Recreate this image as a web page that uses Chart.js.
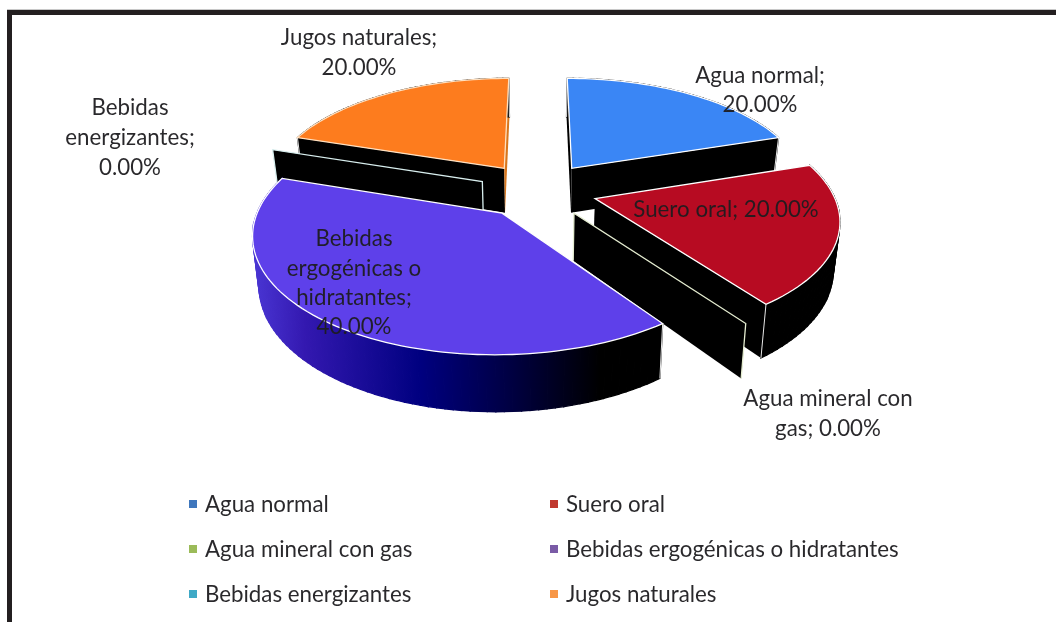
<!DOCTYPE html>
<html lang="es">
  <head>
    <meta charset="UTF-8" />
    <title>Bebidas</title>
    <style>
      body {
        margin: 0;
        background: #fff;
        overflow: hidden;
      }

      .frame {
        position: absolute;
        left: 7px;
        top: 10px;
        width: 1100px;
        height: 700px;
        border: 5px solid #231f20;
        box-shadow: 0 -1px 0 #c8c8c8;
      }

      canvas {
        position: absolute;
        left: 0;
        top: 0;
      }
    </style>
  </head>
  <body>
    <div class="frame"></div>
    <canvas id="chart" width="1056" height="622"></canvas>

    <script src="https://cdn.jsdelivr.net/npm/chart.js"></script>

    <script>
      const categories = [
        "Agua normal",
        "Suero oral",
        "Agua mineral con gas",
        "Bebidas ergogénicas o hidratantes",
        "Bebidas energizantes",
        "Jugos naturales",
      ];
      const shares = [20, 20, 0, 40, 0, 20];
      const labelLines = [
        ["Agua normal;", "20.00%"],
        ["Suero oral; 20.00%"],
        ["Agua mineral con", "gas; 0.00%"],
        ["Bebidas", "ergogénicas o", "hidratantes;", "40.00%"],
        ["Bebidas", "energizantes;", "0.00%"],
        ["Jugos naturales;", "20.00%"],
      ];

      const topColors = ["#3a86f5", "#b70b22", "#000000", "#5e40ea", "#000000", "#fd7c1e"];
      const legendColors = ["#3f77bd", "#c0392f", "#9bbb59", "#7a5ba6", "#3fa9c6", "#f79646"];
      const edgeColors = ["#ffffff", "#ffffff", "#e4ecd0", "#ffffff", "#d8eeee", "#ffe0c0"];

      // label anchors (centre x, y of each line)
      const labelX = [760, 726, 828, 354, 130, 359];
      const labelY = [
        [76, 105],
        [210],
        [399, 429],
        [239, 269, 298, 327],
        [108, 138, 168],
        [38, 68],
      ];
      const legendX = [189, 550, 189, 550, 189, 550];
      const legendY = [505, 505, 550, 550, 595, 595];
      const drawOrder = [5, 0, 4, 1, 2, 3];

      // fake 3D view of the pie
      const CX = 538;
      const CY = 190;
      const RX = 237;
      const RY = 110.7;
      const PERSP = 0.16;
      const EXPLODE = 0.25;
      const DEPTH = 46;
      const FONT = '22.3px Lato, "Noto Sans", sans-serif';

      function project(u, v, bottom) {
        const s = 1 / (1 - PERSP * v);
        let x = CX + RX * u * s;
        let y = CY + RY * v * s;
        if (bottom) {
          x = CX + (x - CX) * 0.978;
          y += DEPTH * s;
        }
        return [x, y];
      }

      function polygon(ctx, pts, fill, stroke) {
        ctx.beginPath();
        pts.forEach((p, i) => (i ? ctx.lineTo(p[0], p[1]) : ctx.moveTo(p[0], p[1])));
        ctx.closePath();
        ctx.fillStyle = fill;
        ctx.fill();
        if (stroke) {
          ctx.strokeStyle = stroke;
          ctx.lineWidth = 1.3;
          ctx.stroke();
        }
      }

      function drawSlice(ctx, arc, index) {
        const { startAngle, endAngle } = arc.getProps(["startAngle", "endAngle"], true);
        const mid = (startAngle + endAngle) / 2;
        const ou = EXPLODE * Math.cos(mid);
        const ov = EXPLODE * Math.sin(mid);
        const rim = [];
        const steps = Math.max(1, Math.ceil((endAngle - startAngle) / 0.03));
        for (let i = 0; i <= steps; i++) {
          const a = startAngle + ((endAngle - startAngle) * i) / steps;
          rim.push([ou + Math.cos(a), ov + Math.sin(a)]);
        }
        const at = (p, b) => project(p[0], p[1], b);
        const apex = [ou, ov];
        const first = rim[0];
        const last = rim[rim.length - 1];

        if (shares[index] === 0) {
          // a slice with no share is only a thin wall
          polygon(ctx, [at(apex), at(first), at(first, true), at(apex, true)], "#000", null);
          ctx.strokeStyle = edgeColors[index];
          ctx.lineWidth = 1.3;
          ctx.beginPath();
          ctx.moveTo(...at(apex, true));
          ctx.lineTo(...at(apex));
          ctx.lineTo(...at(first));
          ctx.lineTo(...at(first, true));
          ctx.stroke();
          return;
        }

        // cut faces
        polygon(ctx, [at(apex), at(first), at(first, true), at(apex, true)], "#000");
        polygon(ctx, [at(apex), at(last), at(last, true), at(apex, true)], index === 5 ? "#d8761c" : "#000");

        // rim wall, one quad per step, stroked in its own colour to hide the seams
        let wall = "#000";
        if (index === 3) {
          wall = ctx.createLinearGradient(253, 0, 600, 0);
          wall.addColorStop(0, "#4a36d4");
          wall.addColorStop(0.15, "#3318b0");
          wall.addColorStop(0.48, "#000080");
          wall.addColorStop(0.75, "#000040");
          wall.addColorStop(1, "#000000");
        }
        for (let i = 0; i < rim.length - 1; i++) {
          const quad = [at(rim[i]), at(rim[i + 1]), at(rim[i + 1], true), at(rim[i], true)];
          polygon(ctx, quad, wall, wall);
        }

        // pale edge down the front corners
        ctx.strokeStyle = "#e8e8e8";
        ctx.lineWidth = 1;
        [first, last].forEach((p) => {
          ctx.beginPath();
          ctx.moveTo(...at(p));
          ctx.lineTo(...at(p, true));
          ctx.stroke();
        });

        // top face
        polygon(ctx, [at(apex)].concat(rim.map((p) => at(p))), topColors[index], edgeColors[index]);
      }

      const pie3d = {
        id: "pie3d",
        beforeDatasetDraw(chart) {
          const arcs = chart.getDatasetMeta(0).data;
          drawOrder.forEach((i) => drawSlice(chart.ctx, arcs[i], i));
          return false;
        },
        afterDraw(chart) {
          const ctx = chart.ctx;
          ctx.save();
          ctx.font = FONT;
          ctx.textBaseline = "middle";
          ctx.fillStyle = "rgba(30,28,32,0.95)";
          ctx.textAlign = "center";
          labelLines.forEach((lines, i) => {
            lines.forEach((line, j) => ctx.fillText(line, labelX[i], labelY[i][j]));
          });
          ctx.textAlign = "left";
          categories.forEach((name, i) => {
            ctx.fillStyle = legendColors[i];
            ctx.fillRect(legendX[i], legendY[i] - 5, 8, 8);
            ctx.fillStyle = "rgba(30,28,32,0.95)";
            ctx.fillText(name, legendX[i] + 16, legendY[i]);
          });
          ctx.restore();
        },
      };

      new Chart(document.getElementById("chart"), {
        type: "pie",
        data: {
          labels: categories,
          datasets: [{ data: shares, backgroundColor: topColors }],
        },
        options: {
          responsive: false,
          animation: false,
          plugins: { legend: { display: false }, tooltip: { enabled: false } },
        },
        plugins: [pie3d],
      });
    </script>
  </body>
</html>
